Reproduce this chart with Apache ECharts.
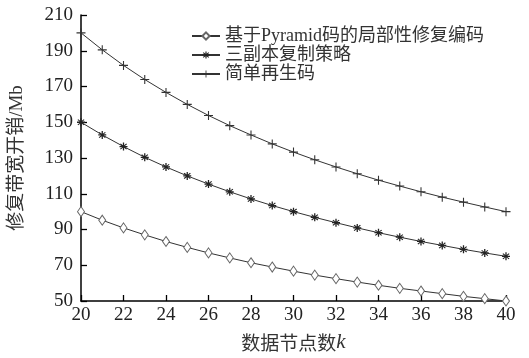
<!DOCTYPE html>
<html><head><meta charset="utf-8">
<script src="https://cdn.jsdelivr.net/npm/echarts@6/dist/echarts.min.js"></script>
<style>html,body{margin:0;padding:0;background:#fff}#c{width:529px;height:358px}</style>
</head><body><div id="c"></div>
<script>
var kValues = [20,21,22,23,24,25,26,27,28,29,30,31,32,33,34,35,36,37,38,39,40];
var pyramidLRC = [100,95.2,90.9,87,83.3,80,76.9,74.1,71.4,69,66.7,64.5,62.5,60.6,58.8,57.1,55.6,54.1,52.6,51.3,50];
var tripleRep = [150,142.9,136.4,130.4,125,120,115.4,111.1,107.1,103.4,100,96.8,93.8,90.9,88.2,85.7,83.3,81.1,78.9,76.9,75];
var simpleRegen = [200,190.5,181.8,173.9,166.7,160,153.8,148.1,142.9,137.9,133.3,129,125,121.2,117.6,114.3,111.1,108.1,105.3,102.6,100];
var seriesNames = ['基于Pyramid码的局部性修复编码','三副本复制策略','简单再生码'];

var fontMix = '"Liberation Serif","Noto Sans CJK SC",serif';
var plusPath = 'path://M4.4,0H5.6V4.4H10V5.6H5.6V10H4.4V5.6H0V4.4H4.4Z';
var starPath = 'path://M4.2,0H5.8V3.4L8.4,1.2L9.4,2.2L6.6,4.2H10V5.8H6.6L9.4,7.8L8.4,8.8L5.8,6.6V10H4.2V6.6L1.6,8.8L0.6,7.8L3.4,5.8H0V4.2H3.4L0.6,2.2L1.6,1.2L4.2,3.4Z';

function pairs(arr){ return kValues.map(function(k,i){ return [k, arr[i]]; }); }

var chart = echarts.init(document.getElementById('c'), null, {renderer:'canvas'});
chart.setOption({
  animation:false,
  backgroundColor:'#fff',
  grid:{left:76,right:23,top:15,bottom:50,containLabel:false},
  legend:{
    orient:'vertical', left:186, top:22, itemGap:1, itemWidth:28, itemHeight:9,
    textStyle:{fontFamily:fontMix, fontSize:18, color:'#333'},
    data:seriesNames
  },
  xAxis:{
    type:'value', min:20, max:40, interval:2,
    name:'{a|数据节点数}{b|k}', nameLocation:'middle', nameGap:31,
    nameTextStyle:{rich:{a:{fontFamily:'"Noto Sans CJK SC"',fontSize:19,color:'#333'},b:{fontFamily:'"Liberation Serif"',fontStyle:'italic',fontSize:21,color:'#333'}}},
    axisLine:{show:true,lineStyle:{color:'#000',width:1.5}},
    axisTick:{show:true,inside:true,length:6,lineStyle:{color:'#000',width:1.3}},
    axisLabel:{fontFamily:'"Liberation Serif"',fontSize:19,color:'#222',margin:5},
    splitLine:{show:false}
  },
  yAxis:{
    type:'value', min:50, max:210, interval:20,
    name:'修复带宽开销/Mb', nameLocation:'middle', nameGap:54,
    nameTextStyle:{fontFamily:fontMix,fontSize:19,color:'#333'},
    axisLine:{show:true,lineStyle:{color:'#000',width:1.5}},
    axisTick:{show:true,inside:true,length:6,lineStyle:{color:'#000',width:1.3}},
    axisLabel:{fontFamily:'"Liberation Serif"',fontSize:19,color:'#222',margin:8},
    splitLine:{show:false}
  },
  series:[
    {name:seriesNames[0],type:'line',data:pairs(pyramidLRC),clip:false,
     symbol:'diamond',symbolSize:[7,10],
     itemStyle:{color:'#fff',borderColor:'#666',borderWidth:1},
     lineStyle:{color:'#333',width:1}},
    {name:seriesNames[1],type:'line',data:pairs(tripleRep),clip:false,
     symbol:starPath,symbolSize:8,
     itemStyle:{color:'#222',borderWidth:0},
     lineStyle:{color:'#333',width:1}},
    {name:seriesNames[2],type:'line',data:pairs(simpleRegen),clip:false,
     symbol:plusPath,symbolSize:9,
     itemStyle:{color:'#333',borderWidth:0},
     lineStyle:{color:'#333',width:1}}
  ]
});
</script></body></html>
